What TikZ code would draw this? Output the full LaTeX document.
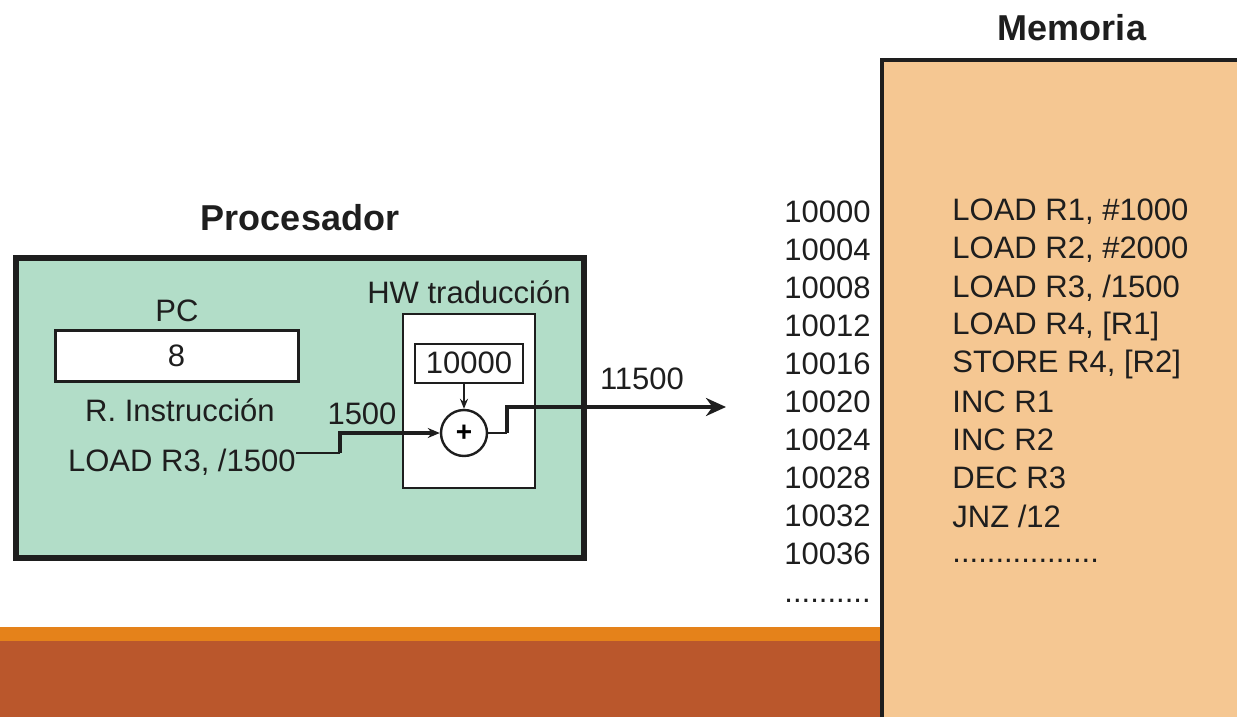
\documentclass[tikz,border=0pt]{standalone}
\usepackage{fontspec}
\setmainfont{Liberation Sans}
\usepackage{xcolor}
\usepackage{tikz}
\usetikzlibrary{arrows.meta,positioning,calc}
\definecolor{procgreen}{HTML}{B2DDC8}
\definecolor{memtan}{HTML}{F5C792}
\definecolor{barorange}{HTML}{E5821A}
\definecolor{barbrown}{HTML}{BA572C}
\definecolor{ink}{HTML}{1E1E1E}
\tikzset{
  txt/.style={
    inner sep=0pt, text=ink,
    font=\fontsize{15.5}{18}\selectfont
  },
  titletxt/.style={
    inner sep=0pt, text=ink,
    font=\fontsize{18}{21}\selectfont\bfseries
  },
  regbox/.style={
    rectangle, draw=ink, fill=white, line width=#1,
    inner sep=0pt, text=ink,
    font=\fontsize{15.5}{18}\selectfont
  },
  regbox/.default=1pt,
  adderbox/.style={
    circle, draw=ink, fill=white, line width=1.2pt,
    minimum size=23pt, inner sep=0pt,
    font=\fontsize{14}{16}\selectfont\bfseries
  },
  datapath/.style={
    draw=ink, line width=#1
  },
  datapath/.default=2.2pt,
}

\begin{document}
\begin{tikzpicture}[x=0.5pt,y=-0.5pt]
\useasboundingbox (0,0) rectangle (1237,717);

% Slide bars at the bottom
\fill[barorange] (0,627) rectangle (882,641);
\fill[barbrown] (0,641) rectangle (882,717);

% Memory
\draw[fill=memtan, draw=ink, line width=2pt] (882,60) rectangle (1260,740);
\node[titletxt] (memtitle) at (1072,28) {Memoria};

\foreach \addr/\instr [count=\i] in {10000/{LOAD R1, \#1000},10004/{LOAD R2, \#2000},
    10008/{LOAD R3, /1500},10012/{LOAD R4, [R1]},10016/{STORE R4, [R2]},
    10020/{INC R1},10024/{INC R2},10028/{DEC R3},10032/{JNZ /12}}
{
  \node[txt, anchor=east] (addr\i) at (871,{212+38*(\i-1)}) {\addr};
  \node[txt, anchor=west] (instr\i) at (952,{212+38*(\i-1)}) {\instr};
}
\node[txt, anchor=east] (addr10) at (871,554) {10036};
\node[txt, anchor=west] (instrdots) at (952,561) {.................};
\node[txt, anchor=east] (addrdots) at (871,601) {..........};

% Processor
\draw[fill=procgreen, draw=ink, line width=2.8pt] (16,258) rectangle (584,558);
\node[titletxt] (proctitle) at (300,218) {Procesador};

\node[regbox=1.5pt, minimum width=121.5pt, minimum height=25.5pt] (pc) at (176.5,355.5) {8};
\node[txt] (pclabel) at (177,311) {PC};
\node[txt] (irlabel) at (180,410) {R. Instrucción};
\node[txt, anchor=east] (ir) at (296,462) {LOAD R3, /1500};

% Translation hardware
\node[regbox, minimum width=66pt, minimum height=87pt] (hw) at (469,401) {};
\node[txt] (hwlabel) at (469,292) {HW traducción};
\node[regbox, minimum width=54pt, minimum height=19.5pt] (base) at (469,363) {10000};
\node[adderbox] (adder) at (464,433) {+};

% Connections
\coordinate (stepin) at (340,453);
\coordinate (stepout) at (507,433);
\coordinate (memin) at (726,407);
\draw[datapath=1.1pt] (ir.east |- stepin) -- (stepin);
\draw[datapath, -{Stealth[length=6pt,width=5pt]}] (stepin) |- (adder.west);
\node[txt] (offset) at (362,414) {1500};
\draw[datapath=0.8pt, -{Stealth[length=5pt,width=4pt]}] (adder.north |- base.south) -- (adder.north);
\draw[datapath=1.1pt] (adder.east) -- (stepout);
\draw[datapath, -{Stealth[length=10pt,width=9pt]}] (stepout) |- (memin);
\node[txt] (physaddr) at (642,379) {11500};

\end{tikzpicture}
\end{document}
